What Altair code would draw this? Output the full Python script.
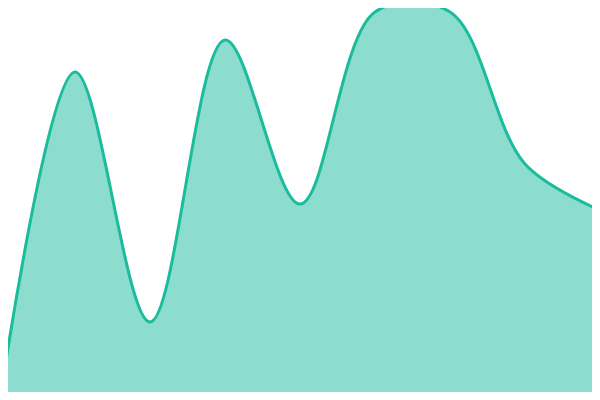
import altair as alt
import pandas as pd

positions = [0, 1, 2, 3, 4, 5, 6, 7, 8]
values = [0, 82, 19.5, 90, 49, 97, 97, 59, 47.5]

df = pd.DataFrame({"i": positions, "v": values})

x = alt.X("i:Q", axis=None, scale=alt.Scale(domain=[0.10667, 7.89333], nice=False, zero=False))
y = alt.Y("v:Q", axis=None, scale=alt.Scale(domain=[2, 98], nice=False, zero=False))

base = alt.Chart(df)
area = base.mark_area(interpolate="catmull-rom", color="#1abc9c",
                      opacity=0.5, clip=True).encode(x=x, y=y)
line = base.mark_line(interpolate="catmull-rom", color="#1abc9c",
                      strokeWidth=3, clip=True).encode(x=x, y=y)

chart = (area + line).properties(
    width=584, height=384, padding=0, background="white"
).configure_view(stroke=None)

chart.save("out.html", embed_options={"renderer": "svg", "actions": False})
